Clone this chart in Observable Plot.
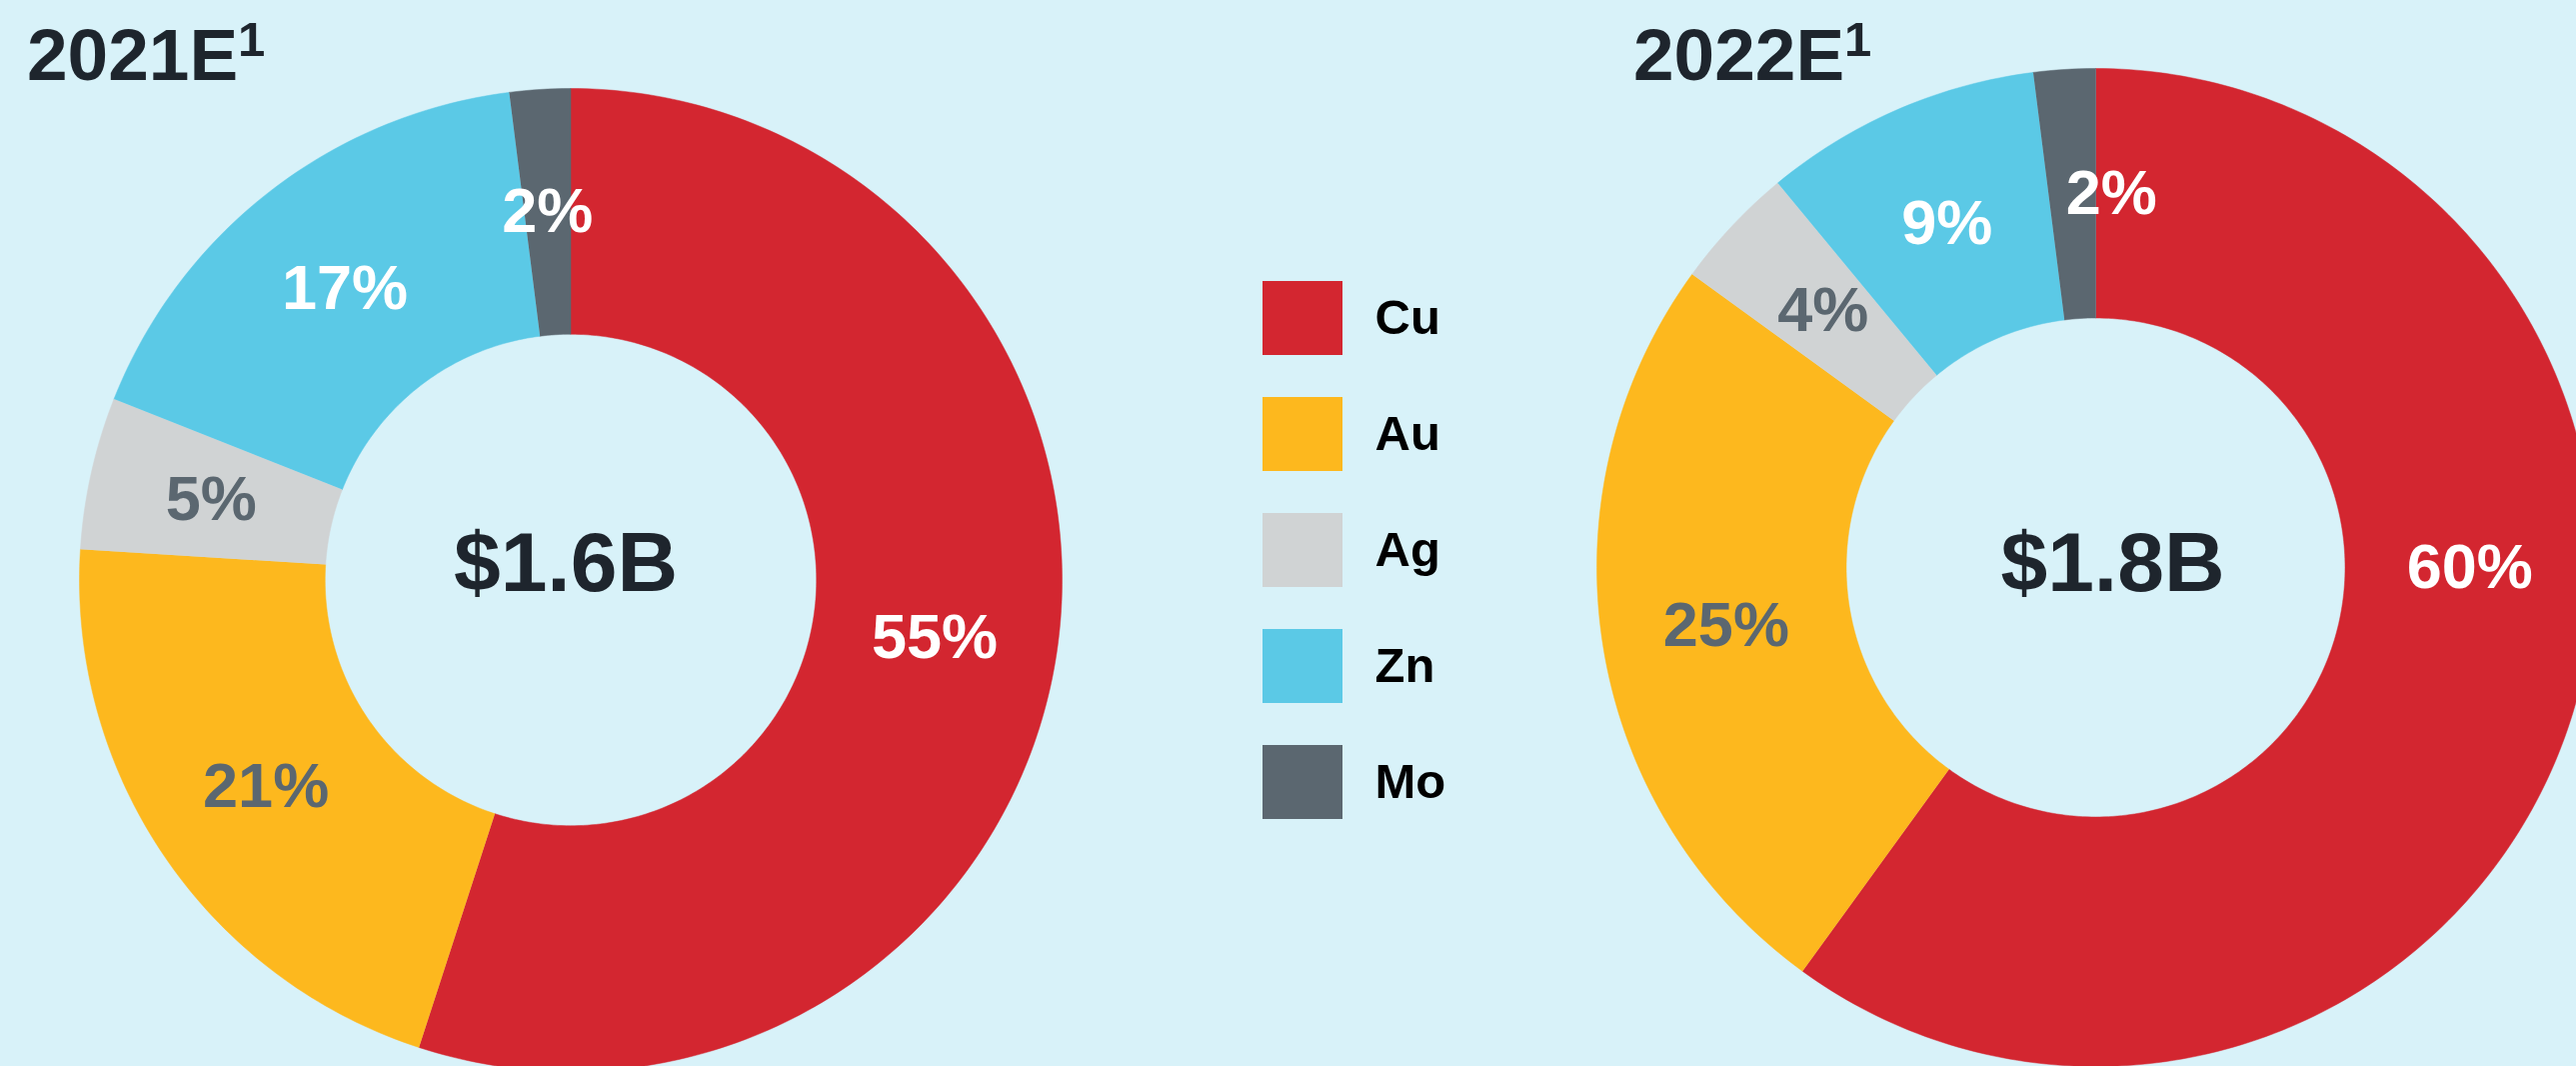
<!DOCTYPE html>
<html>
<head>
<meta charset="utf-8">
<script src="https://cdn.jsdelivr.net/npm/d3@7"></script>
<script src="https://cdn.jsdelivr.net/npm/@observablehq/plot@0.6"></script>
<style>
  html, body { margin: 0; padding: 0; background: #D8F2F9; }
  #page { position: relative; width: 2577px; height: 1066px; overflow: hidden; background: #D8F2F9;
          font-family: "Liberation Sans", Arial, sans-serif; }
  #page svg { max-width: none !important; }
  .title { position: absolute; top: 18px; font-size: 73px; line-height: 73px; font-weight: bold; color: #1E252D; white-space: nowrap; }
  .title sup { font-size: 49px; position: relative; top: -24px; vertical-align: baseline; }
  .abs { position: absolute; }
</style>
</head>
<body>
<div id="page"></div>
<script>
// ---------- data ----------
const metals = ["Cu", "Au", "Ag", "Zn", "Mo"];
const metalColors = ["#D32630", "#FDB81E", "#D0D3D4", "#5BC9E6", "#5B6770"];
const years = ["2021E", "2022E"];
const totals = ["$1.6B", "$1.8B"];
const share2021 = [55, 21, 5, 17, 2];
const share2022 = [60, 25, 4, 9, 2];

// ---------- layout ----------
const FONT = '"Liberation Sans", Arial, sans-serif';
const page = document.getElementById("page");
const lightLabel = new Set(["Cu", "Zn", "Mo"]);

function donut(shares, total, R, opts = {}) {
  const sum = d3.sum(shares);
  const TAU = 2 * Math.PI;
  let acc = 0;
  const slices = metals.map((m, i) => {
    const a0 = acc / sum * TAU;
    acc += shares[i];
    const a1 = acc / sum * TAU;
    return {metal: m, value: shares[i], a0, a1};
  });
  const inner = 0.5;
  const pts = slices.flatMap(s => {
    const n = Math.max(2, Math.ceil((s.a1 - s.a0) / TAU * 360));
    const out = [];
    for (let k = 0; k <= n; k++) {
      const a = s.a0 + (s.a1 - s.a0) * k / n;
      out.push({metal: s.metal, x: Math.sin(a), y: Math.cos(a)});
    }
    for (let k = n; k >= 0; k--) {
      const a = s.a0 + (s.a1 - s.a0) * k / n;
      out.push({metal: s.metal, x: inner * Math.sin(a), y: inner * Math.cos(a)});
    }
    return out;
  });
  const angleOverride = opts.angleOverride || {};
  const labels = slices.map(s => {
    const a = angleOverride[s.metal] !== undefined ? angleOverride[s.metal] * Math.PI / 180 : (s.a0 + s.a1) / 2;
    const r = (1 + inner) / 2;
    return {metal: s.metal, text: s.value + "%", x: r * Math.sin(a), y: r * Math.cos(a)};
  });
  const txt = {fontSize: 63, fontWeight: "bold", fontFamily: FONT, text: "text", x: "x", y: "y"};
  return Plot.plot({
    width: 2 * R, height: 2 * R, margin: 0,
    x: {domain: [-1, 1], axis: null},
    y: {domain: [-1, 1], axis: null},
    color: {domain: metals, range: metalColors},
    style: {background: "transparent", overflow: "visible", maxWidth: "none"},
    marks: [
      Plot.line(pts, {x: "x", y: "y", z: "metal", fill: "metal", stroke: "metal", strokeWidth: 0.5}),
      Plot.text(labels, {...txt, filter: d => lightLabel.has(d.metal), fill: "white"}),
      Plot.text(labels, {...txt, filter: d => !lightLabel.has(d.metal), fill: "#5B6770"}),
      Plot.text([total], {x: () => 0, y: () => 0, text: d => d, dx: opts.cdx || 0, dy: opts.cdy || 0,
        fontSize: 84, fontWeight: "bold", fontFamily: FONT, fill: "#1E252D"})
    ]
  });
}

function place(el, left, top, w, h) {
  const wrap = document.createElement("div");
  wrap.className = "abs";
  wrap.style.left = left + "px";
  wrap.style.top = top + "px";
  wrap.style.width = w + "px";
  wrap.style.height = h + "px";
  wrap.appendChild(el);
  page.appendChild(wrap);
}

// left donut
const R1 = 491.5;
place(donut(share2021, totals[0], R1, {cdx: -5, cdy: -16}), 570.5 - R1, 579.5 - R1, 2 * R1, 2 * R1);
// right donut
const R2 = 499;
place(donut(share2022, totals[1], R2, {cdx: 17, cdy: -3, angleOverride: {Cu: 90, Mo: 2.4}}), 2096 - R2, 566.5 - R2, 2 * R2, 2 * R2);

// legend
const legend = Plot.plot({
  width: 280, height: 580, margin: 0,
  x: {domain: ["swatch"], range: [20, 100], padding: 0, axis: null},
  y: {domain: metals, range: [19, 561], paddingInner: 0.359, paddingOuter: 0, axis: null},
  color: {domain: metals, range: metalColors},
  style: {background: "transparent", overflow: "visible"},
  marks: [
    Plot.cell(metals, {x: () => "swatch", y: d => d, fill: d => d}),
    Plot.text(metals, {x: () => "swatch", y: d => d, text: d => d, dx: 72, textAnchor: "start",
      fontSize: 49, fontWeight: "bold", fontFamily: FONT, fill: "#000"})
  ]
});
place(legend, 1243, 260, 280, 580);

// titles
[[years[0], 27], [years[1], 1634]].forEach(([t, left]) => {
  const d = document.createElement("div");
  d.className = "title";
  d.style.left = left + "px";
  d.innerHTML = t + "<sup>1</sup>";
  page.appendChild(d);
});
</script>
</body>
</html>
